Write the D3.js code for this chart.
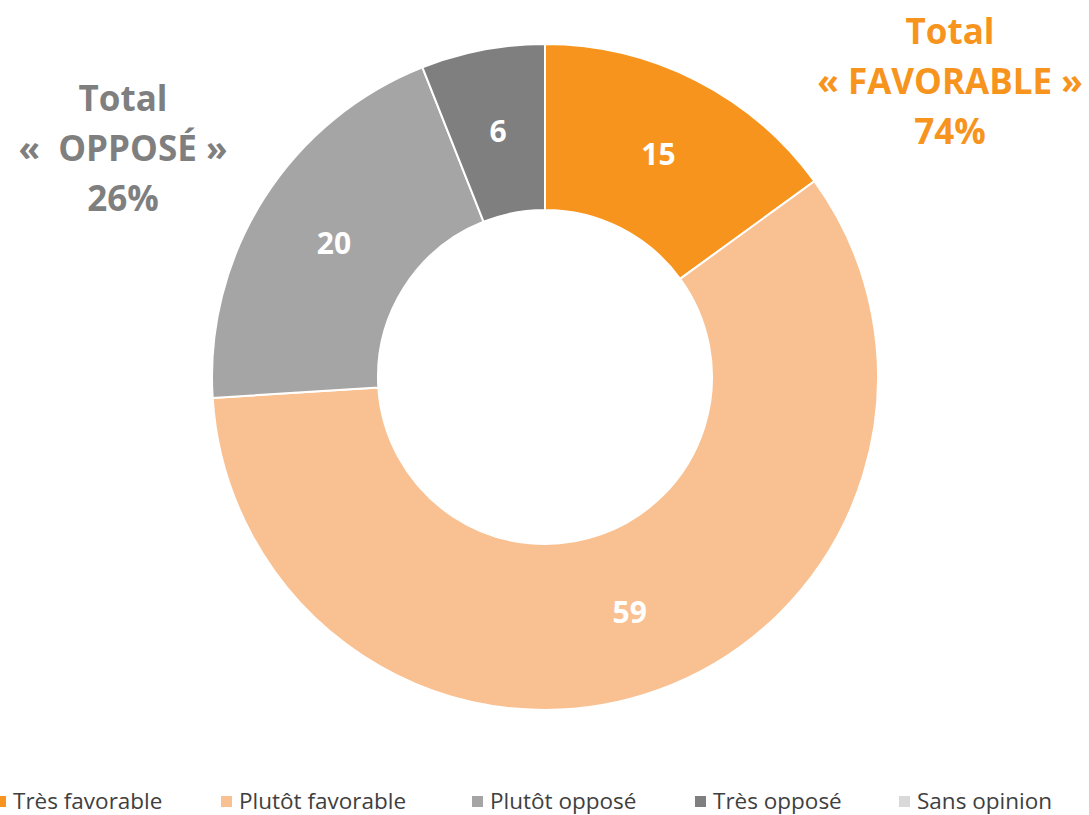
<!DOCTYPE html>
<meta charset="utf-8">
<script src="https://d3js.org/d3.v7.min.js"></script>
<style>
  body { margin: 0; background: #fff; }
  text { font-family: "Open Sans", "Noto Sans", sans-serif; white-space: pre; }
</style>
<div id="my_dataviz"></div>
<script>

// data
var categories = ["Très favorable", "Plutôt favorable", "Plutôt opposé", "Très opposé", "Sans opinion"];
var values = [15, 59, 20, 6, 0];
var colors = ["#F7941D", "#F9C192", "#A5A5A5", "#7F7F7F", "#D9D9D9"];
var totalFav = ["Total", "« FAVORABLE »", "74%"];
var totalOpp = ["Total", "«  OPPOSÉ »", "26%"];

var width = 1089, height = 815;
var cx = 545, cy = 377, outerR = 333, innerR = 167;

var svg = d3.select("#my_dataviz")
  .append("svg")
    .attr("width", width)
    .attr("height", height);

var pie = d3.pie().sort(null).value(function(d) { return d; });
var arcs = pie(values);

var arc = d3.arc().innerRadius(innerR).outerRadius(outerR);

var g = svg.append("g")
    .attr("transform", "translate(" + cx + "," + cy + ")");

g.selectAll("path")
  .data(arcs)
  .enter()
  .append("path")
    .attr("d", arc)
    .attr("fill", function(d, i) { return colors[i]; })
    .attr("stroke", "#fff")
    .attr("stroke-width", 2);

// value labels at the middle of each ring slice
var labelArc = d3.arc().innerRadius((innerR + outerR) / 2).outerRadius((innerR + outerR) / 2);
g.selectAll(".lbl")
  .data(arcs.filter(function(d) { return d.value > 0; }))
  .enter()
  .append("text")
    .attr("class", "lbl")
    .attr("transform", function(d) { return "translate(" + labelArc.centroid(d) + ")"; })
    .attr("text-anchor", "middle")
    .attr("dy", "0.36em")
    .style("font-size", "30px")
    .style("font-weight", "bold")
    .style("fill", "#fff")
    .text(function(d) { return d.value; });

// totals
svg.append("g").selectAll("text")
  .data(totalFav)
  .enter()
  .append("text")
    .attr("x", 950)
    .attr("y", function(d, i) { return 44 + i * 50; })
    .attr("text-anchor", "middle")
    .style("font-size", "35px")
    .style("font-weight", "bold")
    .style("fill", "#F7941D")
    .text(function(d) { return d; });

svg.append("g").selectAll("text")
  .data(totalOpp)
  .enter()
  .append("text")
    .attr("x", 123)
    .attr("y", function(d, i) { return 111 + i * 50; })
    .attr("text-anchor", "middle")
    .style("font-size", "35px")
    .style("font-weight", "bold")
    .style("fill", "#7F7F7F")
    .text(function(d) { return d; });

// legend
var legendX = [-5, 221, 472, 695, 899];
var legend = svg.append("g").selectAll("g")
  .data(categories)
  .enter()
  .append("g")
    .attr("transform", function(d, i) { return "translate(" + legendX[i] + ",796)"; });

legend.append("rect")
    .attr("width", 11)
    .attr("height", 11)
    .attr("fill", function(d, i) { return colors[i]; });

legend.append("text")
    .attr("x", 18)
    .attr("y", 13)
    .style("font-size", "22.5px")
    .style("fill", "#404040")
    .text(function(d) { return d; });

</script>
